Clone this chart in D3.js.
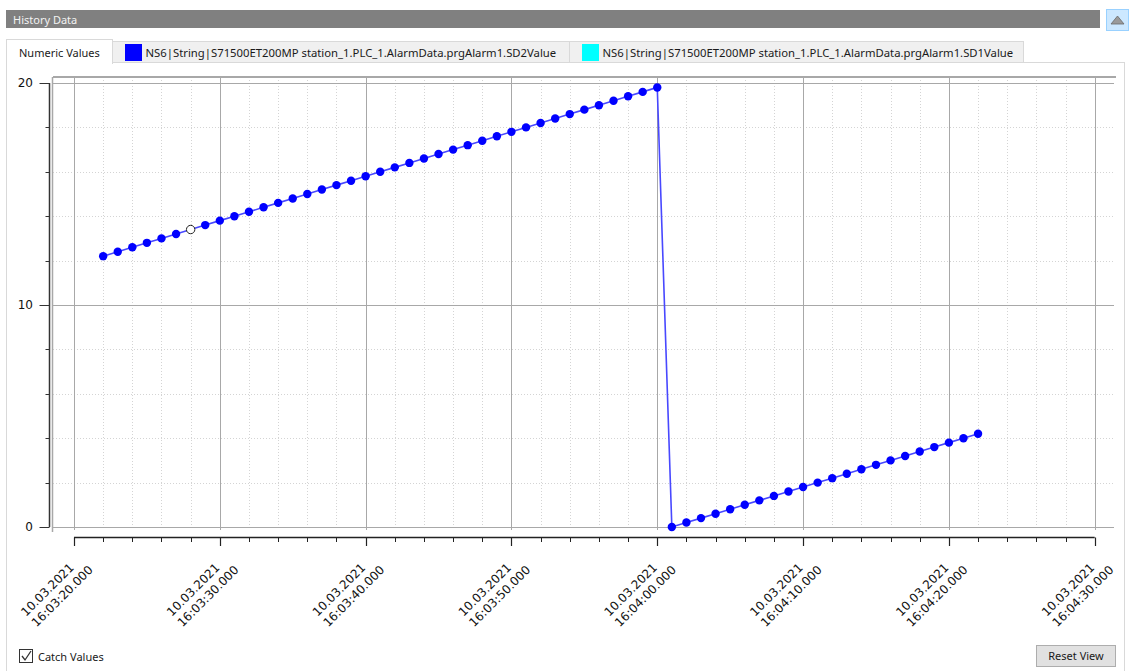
<!DOCTYPE html>
<html>
<head>
<meta charset="utf-8">
<script src="https://cdn.jsdelivr.net/npm/d3@7"></script>
<style>
  html, body { margin: 0; padding: 0; background: #ffffff; }
  svg { display: block; }
  .ui { font-family: "Noto Sans", "DejaVu Sans", sans-serif; font-size: 11px; fill: #1a1a1a; }
  .tab-label { font-size: 11.3px; }
  .axis-label { font-family: "DejaVu Sans", sans-serif; font-size: 12px; fill: #111; }
</style>
</head>
<body>
<svg id="chart" width="1129" height="671"></svg>
<script>
// Recorded samples of the SD2Value tag, one per second
const sampleTimes = [
  "16:03:22","16:03:23","16:03:24","16:03:25","16:03:26","16:03:27","16:03:28","16:03:29",
  "16:03:30","16:03:31","16:03:32","16:03:33","16:03:34","16:03:35","16:03:36","16:03:37",
  "16:03:38","16:03:39","16:03:40","16:03:41","16:03:42","16:03:43","16:03:44","16:03:45",
  "16:03:46","16:03:47","16:03:48","16:03:49","16:03:50","16:03:51","16:03:52","16:03:53",
  "16:03:54","16:03:55","16:03:56","16:03:57","16:03:58","16:03:59","16:04:00","16:04:01",
  "16:04:02","16:04:03","16:04:04","16:04:05","16:04:06","16:04:07","16:04:08","16:04:09",
  "16:04:10","16:04:11","16:04:12","16:04:13","16:04:14","16:04:15","16:04:16","16:04:17",
  "16:04:18","16:04:19","16:04:20","16:04:21","16:04:22"
];
const sd2Values = [
  12.2, 12.4, 12.6, 12.8, 13.0, 13.2, 13.4, 13.6,
  13.8, 14.0, 14.2, 14.4, 14.6, 14.8, 15.0, 15.2,
  15.4, 15.6, 15.8, 16.0, 16.2, 16.4, 16.6, 16.8,
  17.0, 17.2, 17.4, 17.6, 17.8, 18.0, 18.2, 18.4,
  18.6, 18.8, 19.0, 19.2, 19.4, 19.6, 19.8, 0.0,
  0.2, 0.4, 0.6, 0.8, 1.0, 1.2, 1.4, 1.6,
  1.8, 2.0, 2.2, 2.4, 2.6, 2.8, 3.0, 3.2,
  3.4, 3.6, 3.8, 4.0, 4.2
];
// Sample currently picked by the cursor
const selectedTime = "16:03:28";

const recordDate = "2021-03-10";
const xDomain = ["16:03:20", "16:04:30"];
const yDomain = [0, 20];
const yMajorTicks = [0, 10, 20];

const tabSeries = [
  { label: "NS6|String|S71500ET200MP station_1.PLC_1.AlarmData.prgAlarm1.SD2Value", color: "#0000ff" },
  { label: "NS6|String|S71500ET200MP station_1.PLC_1.AlarmData.prgAlarm1.SD1Value", color: "#00ffff" }
];

const toDate = t => new Date(recordDate + "T" + t);
const data = sampleTimes.map((t, i) => ({ t: toDate(t), v: sd2Values[i], key: t }));

const svg = d3.select("#chart");

// ---------- window chrome ----------
svg.append("rect").attr("x", 6).attr("y", 10).attr("width", 1094).attr("height", 18).attr("fill", "#808080");
svg.append("text").attr("class", "ui").attr("x", 13).attr("y", 23.5).style("fill", "#f2f2f2").text("History Data");

// collapse button
svg.append("rect").attr("x", 1106.5).attr("y", 9.5).attr("width", 22).attr("height", 21)
  .attr("fill", "#cce8ff").attr("stroke", "#99d1ff");
svg.append("path").attr("d", "M1111,24 L1117.5,16 L1124,24 Z").attr("fill", "#9a9a9a").attr("stroke", "#6a6a6a").attr("stroke-width", 0.8);

// tab content panel
svg.append("rect").attr("x", 6.5).attr("y", 62.5).attr("width", 1118).attr("height", 640)
  .attr("fill", "#ffffff").attr("stroke", "#d9d9d9");

// inactive tabs
const tabX = [[112.5, 569.5], [569.5, 1023.5]];
tabSeries.forEach((s, i) => {
  const [x0, x1] = tabX[i];
  svg.append("rect").attr("x", x0).attr("y", 41.5).attr("width", x1 - x0).attr("height", 21)
    .attr("fill", "#f0f0f0").attr("stroke", "#d9d9d9");
  svg.append("rect").attr("x", x0 + 12.5).attr("y", 44).attr("width", 17).attr("height", 17).attr("fill", s.color);
  svg.append("text").attr("class", "ui tab-label").attr("x", x0 + 33).attr("y", 56.5).text(s.label);
});

// active tab
svg.append("rect").attr("x", 6.5).attr("y", 39.5).attr("width", 106).attr("height", 24)
  .attr("fill", "#ffffff").attr("stroke", "#d9d9d9");
svg.append("rect").attr("x", 7).attr("y", 61).attr("width", 105).attr("height", 3).attr("fill", "#ffffff");
svg.append("text").attr("class", "ui").attr("x", 19).attr("y", 56.5).text("Numeric Values");

// ---------- plot ----------
const x = d3.scaleTime().domain(xDomain.map(toDate)).range([74, 1094.7]);
const y = d3.scaleLinear().domain(yDomain).range([527, 83]);

const plotLeft = 53, plotRight = 1114, plotTop = 77, gridBottom = 530;

const g = svg.append("g");

// minor grid (every 2 s / every 2 units)
const xMinor = x.ticks(d3.timeSecond.every(2));
const xMajor = x.ticks(d3.timeSecond.every(10));
const yMinor = d3.range(yDomain[0], yDomain[1] + 0.001, 2);

g.selectAll(".vminor").data(xMinor.filter(d => d.getSeconds() % 10 !== 0)).join("line")
  .attr("x1", d => Math.round(x(d)) + 0.5).attr("x2", d => Math.round(x(d)) + 0.5)
  .attr("y1", plotTop).attr("y2", gridBottom)
  .attr("stroke", "#d4d4d4").attr("stroke-dasharray", "1,2");
g.selectAll(".hminor").data(yMinor.filter(d => d % 10 !== 0)).join("line")
  .attr("x1", plotLeft).attr("x2", plotRight)
  .attr("y1", d => Math.round(y(d)) + 0.5).attr("y2", d => Math.round(y(d)) + 0.5)
  .attr("stroke", "#d4d4d4").attr("stroke-dasharray", "1,2");

// major grid
g.selectAll(".vmajor").data(xMajor).join("line")
  .attr("x1", d => Math.round(x(d)) + 0.5).attr("x2", d => Math.round(x(d)) + 0.5)
  .attr("y1", plotTop).attr("y2", gridBottom)
  .attr("stroke", "#a8a8a8");
g.selectAll(".hmajor").data(yMajorTicks).join("line")
  .attr("x1", plotLeft).attr("x2", plotRight)
  .attr("y1", d => Math.round(y(d)) + 0.5).attr("y2", d => Math.round(y(d)) + 0.5)
  .attr("stroke", "#a8a8a8");

// plot frame (top and left)
g.append("line").attr("x1", plotLeft).attr("x2", plotRight + 2).attr("y1", plotTop).attr("y2", plotTop)
  .attr("stroke", "#a8a8a8").attr("stroke-width", 2);
g.append("line").attr("x1", plotLeft - 0.5).attr("x2", plotLeft - 0.5).attr("y1", plotTop).attr("y2", 532)
  .attr("stroke", "#a8a8a8").attr("stroke-width", 1.5);

// y axis
const yAxisX = 49.5;
g.append("line").attr("x1", yAxisX).attr("x2", yAxisX).attr("y1", y(20)).attr("y2", y(0))
  .attr("stroke", "#333").attr("stroke-width", 1.5);
g.selectAll(".ytickminor").data(yMinor.filter(d => d % 10 !== 0)).join("line")
  .attr("x1", yAxisX - 4).attr("x2", yAxisX)
  .attr("y1", d => Math.round(y(d)) + 0.5).attr("y2", d => Math.round(y(d)) + 0.5)
  .attr("stroke", "#333");
g.selectAll(".ytickmajor").data(yMajorTicks).join("line")
  .attr("x1", yAxisX - 10).attr("x2", yAxisX)
  .attr("y1", d => Math.round(y(d)) + 0.5).attr("y2", d => Math.round(y(d)) + 0.5)
  .attr("stroke", "#333");
g.selectAll(".ylabel").data(yMajorTicks).join("text")
  .attr("class", "axis-label")
  .attr("x", 33).attr("y", d => y(d)).attr("dy", "0.36em")
  .attr("text-anchor", "end").text(d => d);

// x axis
const xAxisY = 537.5;
g.append("line").attr("x1", x(x.domain()[0])).attr("x2", x(x.domain()[1]))
  .attr("y1", xAxisY).attr("y2", xAxisY).attr("stroke", "#222").attr("stroke-width", 1.5);
g.selectAll(".xtickminor").data(xMinor.filter(d => d.getSeconds() % 10 !== 0)).join("line")
  .attr("x1", d => Math.round(x(d)) + 0.5).attr("x2", d => Math.round(x(d)) + 0.5)
  .attr("y1", xAxisY).attr("y2", xAxisY + 4.5).attr("stroke", "#222");
g.selectAll(".xtickmajor").data(xMajor).join("line")
  .attr("x1", d => Math.round(x(d)) + 0.5).attr("x2", d => Math.round(x(d)) + 0.5)
  .attr("y1", xAxisY).attr("y2", xAxisY + 8.5).attr("stroke", "#222").attr("stroke-width", 1.2);

const fmtDate = d3.timeFormat("%d.%m.%Y");
const fmtTime = d3.timeFormat("%H:%M:%S.%L");
const xl = g.selectAll(".xlabel").data(xMajor).join("g")
  .attr("transform", d => `translate(${x(d) + 9},560) rotate(-45)`);
xl.each(function(d) {
  const sel = d3.select(this);
  const t1 = sel.append("text").attr("class", "axis-label").attr("y", 0).text(fmtDate(d));
  const t2 = sel.append("text").attr("class", "axis-label").attr("y", 15).text(fmtTime(d));
  const w = Math.max(t1.node().getComputedTextLength(), t2.node().getComputedTextLength());
  t1.attr("x", -w); t2.attr("x", -w);
});

// data series
const line = d3.line().x(d => x(d.t)).y(d => y(d.v));
g.append("path").datum(data).attr("d", line)
  .attr("fill", "none").attr("stroke", "#4848ff").attr("stroke-width", 1.6);
g.selectAll(".pt").data(data).join("circle")
  .attr("cx", d => x(d.t)).attr("cy", d => y(d.v)).attr("r", 4.2)
  .attr("fill", d => d.key === selectedTime ? "#ffffff" : "#0000ff")
  .attr("stroke", d => d.key === selectedTime ? "#222" : "none")
  .attr("stroke-width", 1);

// ---------- bottom controls ----------
svg.append("rect").attr("x", 19.5).attr("y", 649.5).attr("width", 13).attr("height", 13)
  .attr("fill", "#ffffff").attr("stroke", "#333");
svg.append("path").attr("d", "M22,656 L25,660 L31,651").attr("fill", "none").attr("stroke", "#333").attr("stroke-width", 1.3);
svg.append("text").attr("class", "ui").attr("x", 38).attr("y", 661).text("Catch Values");

svg.append("rect").attr("x", 1036.5).attr("y", 645.5).attr("width", 79).attr("height", 21)
  .attr("fill", "#e1e1e1").attr("stroke", "#adadad");
svg.append("text").attr("class", "ui").attr("x", 1076).attr("y", 660).attr("text-anchor", "middle").text("Reset View");
</script>
</body>
</html>
